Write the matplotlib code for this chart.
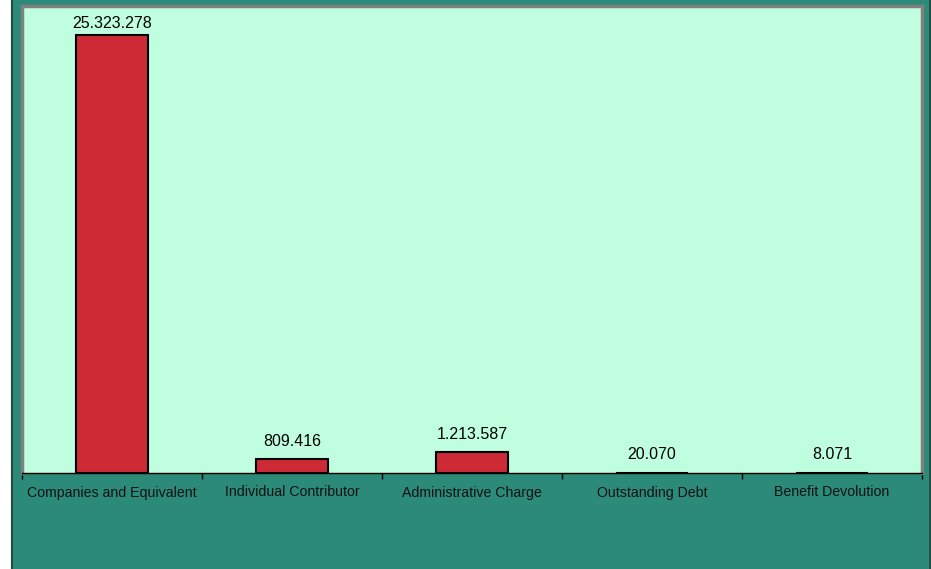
import matplotlib.pyplot as plt
from matplotlib.patches import Rectangle

plt.rcParams['font.family'] = ['Liberation Sans', 'DejaVu Sans']

categorias = ['Companies and Equivalent', 'Individual Contributor', 'Administrative Charge',
              'Outstanding Debt', 'Benefit Devolution']
valores = [25323278, 809416, 1213587, 20070, 8071]


def fmt(v):
    return '{:,}'.format(v).replace(',', '.')


W, H = 931, 569
fig = plt.figure(figsize=(W / 100, H / 100), dpi=100, facecolor='white')
fig.patches.append(Rectangle((12 / W, -0.01), 1, 1.02, transform=fig.transFigure,
                             facecolor='#2b8b78', edgecolor='#1f4a40', linewidth=1.5, zorder=-1))
fig.add_artist(plt.Line2D([929.5 / W, 929.5 / W], [0, 1], color='#1f4a40', linewidth=1.2, zorder=-0.5))

ax = fig.add_axes([22 / W, (H - 473) / H, 900 / W, 467 / H])
ax.set_facecolor('#bfffdf')

ymax = 27000000
x = list(range(len(categorias)))
ax.bar(x, valores, width=0.4, color='#cd2a36', edgecolor='black', linewidth=1.5, zorder=3)
for xi, v in zip(x, valores):
    if v > 0.9 * ymax:
        # label kept inside the plot area, like the original
        ax.annotate(fmt(v), (xi, ymax), xytext=(0, -7), textcoords='offset points',
                    ha='center', va='top', fontsize=11.5, color='black')
    else:
        ax.annotate(fmt(v), (xi, v), xytext=(0, 7.5), textcoords='offset points',
                    ha='center', va='bottom', fontsize=11.5, color='black')

ax.set_xlim(-0.5, len(categorias) - 0.5)
ax.set_ylim(0, ymax)
ax.set_yticks([])
ax.set_xticks(x)
ax.set_xticklabels(categorias, fontsize=10.2, color='#111111')
ax.tick_params(axis='x', which='major', length=0, pad=9)
ax.set_xticks([i - 0.5 for i in range(len(categorias) + 1)], minor=True)
ax.tick_params(axis='x', which='minor', length=4, width=1, color='black', direction='out')

for s in ['top', 'left', 'right']:
    ax.spines[s].set_color('#808080')
    ax.spines[s].set_linewidth(2.5)
ax.spines['bottom'].set_color('black')
ax.spines['bottom'].set_linewidth(1)

fig.savefig('out.png', dpi=100, facecolor=fig.get_facecolor())
